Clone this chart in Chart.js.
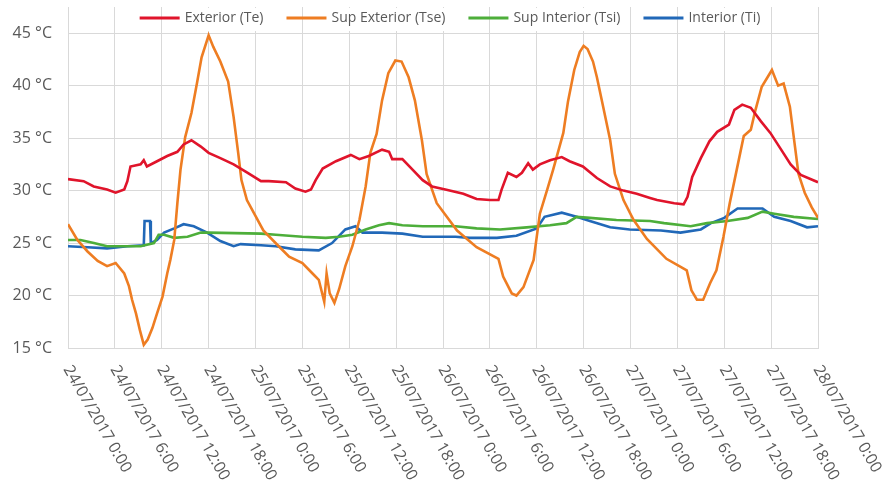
<!DOCTYPE html>
<html>
<head>
<meta charset="utf-8">
<script src="https://cdn.jsdelivr.net/npm/chart.js@4.4.1/dist/chart.umd.min.js"></script>
<style>
html,body{margin:0;padding:0;background:#fff;}
#wrap{width:885px;height:488px;}
</style>
</head>
<body>
<div id="wrap"><canvas id="c" width="885" height="488"></canvas></div>
<script>
// ---- Data (x in hours since 24/07/2017 0:00) ----
const seriesNames = ['Exterior (Te)', 'Sup Exterior (Tse)', 'Sup Interior (Tsi)', 'Interior (Ti)'];
const seriesColors = ['#E0142B', '#EE7D22', '#4DAE3A', '#2168B8'];

const teHours = [0,2,3.3,5,6.1,7.2,7.6,8,9.3,9.7,10.1,11.4,12.7,14,14.8,15.8,17,18,19.5,21.2,23,24.7,25.7,27.9,29.1,30.4,31.1,31.7,32.6,34.3,36.2,37.3,38.5,40.2,41.1,41.5,42.8,44.1,45.4,46.6,48.3,50.6,52.3,54,55.1,55.5,56.3,57.4,58.1,58.9,59.5,60.4,61.7,63.2,64.2,65.9,67.7,69.4,71.1,72.8,74.5,75.4,77.6,78.8,79.3,79.9,81,82.1,83.1,84.6,85.3,86.3,87.4,88.7,89.9,91.2,92.5,93.8,96];
const teValues = [31.1,30.9,30.4,30.1,29.8,30.1,30.9,32.3,32.5,32.9,32.3,32.8,33.3,33.7,34.4,34.8,34.2,33.6,33.1,32.5,31.7,30.9,30.9,30.8,30.2,29.9,30.1,31.0,32.1,32.8,33.4,33.0,33.3,33.9,33.7,33.0,33.0,32.0,31.0,30.4,30.1,29.7,29.2,29.1,29.1,30.1,31.7,31.3,31.7,32.6,32.0,32.5,32.9,33.2,32.8,32.3,31.2,30.4,30.0,29.7,29.3,29.1,28.8,28.7,29.4,31.3,33.1,34.7,35.6,36.3,37.7,38.2,37.9,36.6,35.5,34.0,32.5,31.5,30.8];

const tseHours = [0,1.2,2.5,3.8,5,6.1,7.2,7.8,8.2,8.7,9.2,9.7,10.2,10.8,11.4,12.1,12.7,13.1,13.6,14,14.4,15,15.8,16.5,17.1,18,18.6,19.5,20.5,21.2,21.8,22.2,22.9,25,27.1,28.3,30,31.3,32.1,32.8,33.1,33.5,34.1,34.7,35.5,36.4,37.3,38.1,38.7,39.5,40.2,41,41.9,42.7,43.6,44.4,45.3,45.9,47.2,49.8,52.3,55.1,55.7,56.8,57.4,58.3,59.6,60.4,61.3,62.1,63.4,64,64.8,65.5,66,66.5,67.2,67.7,68.5,69.4,70,71.1,72.4,74.1,76.6,79.2,79.8,80.5,81.3,82.2,83,83.9,84.7,85.6,86.5,87.4,88,88.8,90.1,90.9,91.6,92.4,93,93.5,94.3,95.2,96];
const tseValues = [26.8,25.3,24.2,23.3,22.8,23.1,22.1,20.9,19.6,18.3,16.7,15.3,15.8,16.9,18.3,19.9,22.1,23.4,25.3,28.8,32.0,35.1,37.4,40.2,42.7,44.8,43.7,42.3,40.4,37.0,33.5,31.0,29.1,26.2,24.6,23.7,23.1,22.1,21.5,19.4,22.1,20.2,19.3,20.6,22.8,24.7,27.2,30.4,33.6,35.4,38.6,41.2,42.4,42.3,40.8,38.6,34.8,31.6,28.8,26.2,24.6,23.5,21.8,20.2,20.0,20.8,23.4,27.8,30.0,32.0,35.5,38.5,41.5,43.2,43.8,43.5,42.3,40.8,38.0,34.8,31.6,29.1,27.2,25.4,23.5,22.4,20.5,19.6,19.6,21.2,22.4,25.6,28.8,32.0,35.2,35.8,37.7,39.9,41.5,40.0,40.2,38.0,34.5,31.6,29.8,28.4,27.4];

const tsiHours = [0,1.6,3.3,5,6.7,9.3,11,11.6,12.3,13.6,15.3,17,18,24.7,26.6,30,33,34.7,36.4,38.1,39.8,41.1,42.8,45.4,49.6,52.3,55.3,58.7,61.7,63.8,65.1,66.8,70.2,74.5,76.3,79.7,81.8,84.4,87,88.9,90.4,92.9,96];
const tsiValues = [25.3,25.3,25.0,24.7,24.7,24.7,25.0,25.8,25.8,25.5,25.6,26.0,26.0,25.9,25.8,25.6,25.5,25.6,25.8,26.3,26.7,26.9,26.7,26.6,26.6,26.4,26.3,26.5,26.7,26.9,27.5,27.4,27.2,27.1,26.9,26.6,26.9,27.1,27.4,28.0,27.8,27.5,27.3];

const tiHours = [0,2.5,5,7.6,9.7,9.8,10.5,10.6,11.4,12.3,13.6,14.8,16.1,17.8,19.5,21.2,22.1,24.7,26.6,29.1,32.1,33.8,35.5,36.8,37.7,40.2,42.8,45.4,49.6,51.4,54.9,57.4,60,61,63.2,65.1,66.8,69.4,71.9,75.9,78.4,81,82.3,84,85.7,88.9,90.4,92.5,94.6,96];
const tiValues = [24.7,24.6,24.5,24.7,24.8,27.1,27.1,25.0,25.3,26.0,26.4,26.8,26.6,26.0,25.2,24.7,24.9,24.8,24.7,24.4,24.3,25.0,26.3,26.6,26.0,26.0,25.9,25.6,25.6,25.5,25.5,25.7,26.4,27.5,27.9,27.5,27.1,26.5,26.3,26.2,26.0,26.3,26.9,27.4,28.3,28.3,27.5,27.1,26.5,26.6];

const xTickHours = [0,6,12,18,24,30,36,42,48,54,60,66,72,78,84,90,96];
const xTickLabels = ['24/07/2017 0:00','24/07/2017 6:00','24/07/2017 12:00','24/07/2017 18:00',
  '25/07/2017 0:00','25/07/2017 6:00','25/07/2017 12:00','25/07/2017 18:00',
  '26/07/2017 0:00','26/07/2017 6:00','26/07/2017 12:00','26/07/2017 18:00',
  '27/07/2017 0:00','27/07/2017 6:00','27/07/2017 12:00','27/07/2017 18:00',
  '28/07/2017 0:00'];
const yTickValues = [15,20,25,30,35,40,45];

// ---- build datasets ----
function pts(xs, ys){ return xs.map((x,i)=>({x:x, y:ys[i]})); }
const allX = [teHours, tseHours, tsiHours, tiHours];
const allY = [teValues, tseValues, tsiValues, tiValues];
const datasets = seriesNames.map((n,i)=>({
  label: n,
  data: pts(allX[i], allY[i]),
  borderColor: seriesColors[i],
  backgroundColor: seriesColors[i],
  borderWidth: 2.6,
  pointRadius: 0,
  tension: 0,
  fill: false
}));

const TEXT = '#595959';
const GRID = '#d9d9d9';

const legendPlugin = {
  id: 'topLegend',
  afterDraw(chart){
    const ctx = chart.ctx;
    ctx.save();
    ctx.font = '14px "Open Sans"';
    const lineW = 40, gapLT = 5, gapItem = 23;
    const widths = chart.data.datasets.map(d=>ctx.measureText(d.label).width);
    let total = widths.reduce((a,w)=>a+lineW+gapLT+w,0) + gapItem*(widths.length-1);
    let x = 450 - total/2;
    const y = 18;
    chart.data.datasets.forEach((d,i)=>{
      ctx.strokeStyle = d.borderColor;
      ctx.lineWidth = 3;
      ctx.beginPath(); ctx.moveTo(x, y); ctx.lineTo(x+lineW, y); ctx.stroke();
      const tx = x + lineW + gapLT;
      ctx.fillStyle = '#fff';
      ctx.fillRect(tx-1, 8, widths[i]+2, 23);
      ctx.fillStyle = TEXT;
      ctx.textBaseline = 'middle';
      ctx.textAlign = 'left';
      ctx.fillText(d.label, tx, y);
      x = tx + widths[i] + gapItem;
    });
    ctx.restore();
  }
};

const xLabelPlugin = {
  id: 'xLabels',
  afterDraw(chart){
    const ctx = chart.ctx;
    const xs = chart.scales.x;
    ctx.save();
    ctx.font = '16px "Open Sans"';
    ctx.fillStyle = TEXT;
    ctx.textAlign = 'left';
    ctx.textBaseline = 'alphabetic';
    xTickHours.forEach((h,i)=>{
      const px = xs.getPixelForValue(h);
      ctx.save();
      ctx.translate(px - 5, 369);
      ctx.rotate(Math.PI/3);
      ctx.fillText(xTickLabels[i], 0, 0);
      ctx.restore();
    });
    ctx.restore();
  }
};

new Chart(document.getElementById('c'), {
  type: 'line',
  data: { datasets },
  options: {
    responsive: false,
    animation: false,
    layout: { padding: { left: 0, right: 67, top: 7, bottom: 0 } },
    plugins: { legend: { display: false }, tooltip: { enabled: false } },
    scales: {
      x: {
        type: 'linear', min: 0, max: 96,
        afterBuildTicks: s => { s.ticks = xTickHours.map(v=>({value:v})); },
        afterFit: s => { s.height = 140; s.paddingLeft = 0; s.paddingRight = 0; },
        ticks: { display: false },
        grid: { color: GRID, lineWidth: 1, drawTicks: false },
        border: { color: GRID, width: 1 }
      },
      y: {
        type: 'linear', min: 15, max: 47.5,
        afterBuildTicks: s => { s.ticks = yTickValues.map(v=>({value:v})); },
        afterFit: s => { s.width = 68; s.paddingTop = 0; s.paddingBottom = 0; },
        ticks: {
          padding: 16, color: TEXT,
          font: { family: 'Open Sans', size: 16 },
          callback: v => v + ' °C'
        },
        grid: { color: GRID, lineWidth: 1, drawTicks: false },
        border: { color: GRID, width: 1 }
      }
    }
  },
  plugins: [legendPlugin, xLabelPlugin]
});
</script>
</body>
</html>
